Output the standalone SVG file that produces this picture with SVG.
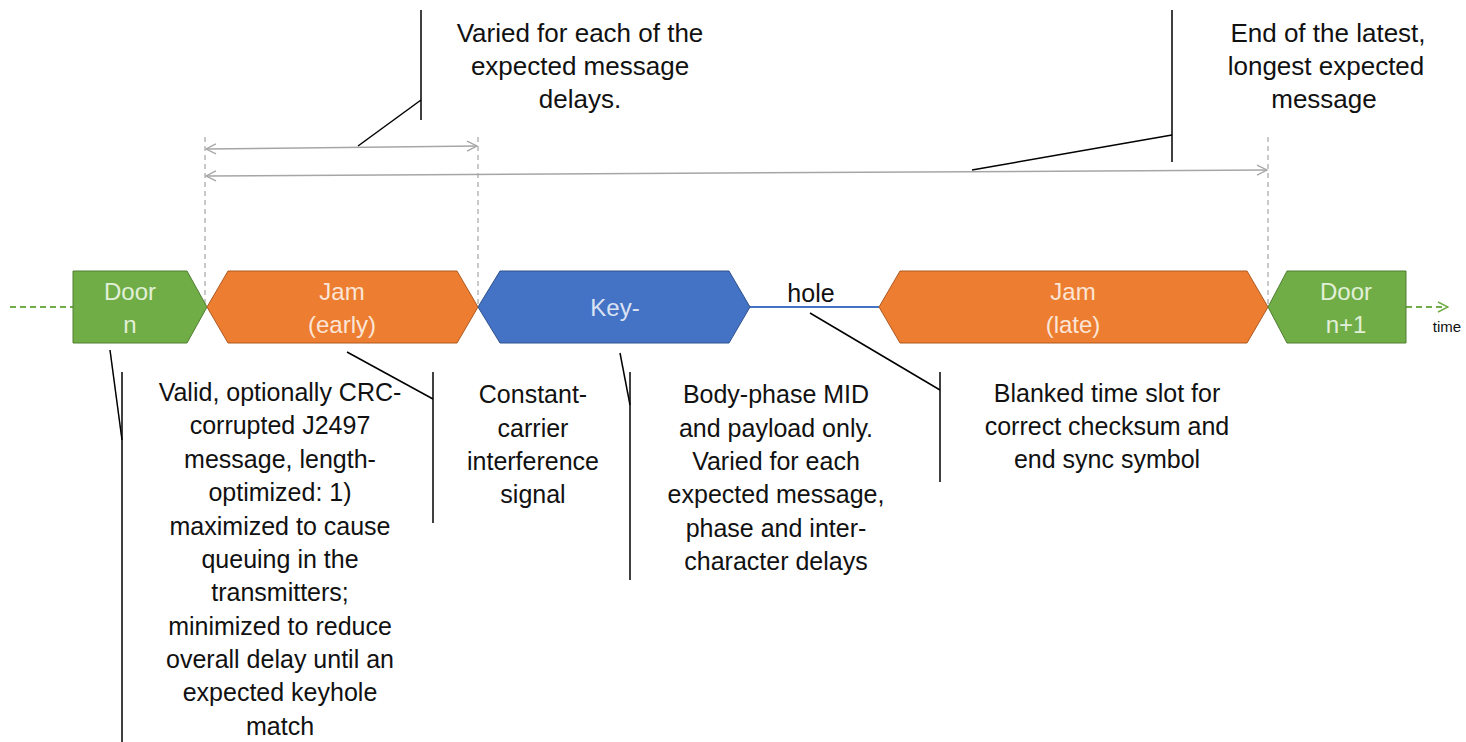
<svg xmlns="http://www.w3.org/2000/svg" width="1466" height="742" viewBox="0 0 1466 742">
<style>
.lbl{font-family:"Liberation Sans",Arial,sans-serif;font-size:25px;fill:#111;text-anchor:middle}
.top{font-size:26px}
.in{font-family:"Liberation Sans",Arial,sans-serif;font-size:24px;text-anchor:middle}
.green{fill:#70ad47;stroke:#507e32;stroke-width:1}
.orange{fill:#ed7d31;stroke:#ae5a21;stroke-width:1}
.blue{fill:#4472c4;stroke:#2f528f;stroke-width:1}
.call{stroke:#000;stroke-width:1.5;fill:none}
.dim{stroke:#a6a6a6;stroke-width:1.5;fill:none}
.guide{stroke:#a6a6a6;stroke-width:1.2;stroke-dasharray:5,4;fill:none}
</style>
<defs>
<marker id="grayArrow" viewBox="0 0 12 12" refX="11" refY="6" markerWidth="12" markerHeight="12" markerUnits="userSpaceOnUse" orient="auto-start-reverse">
<path d="M1,1 L11,6 L1,11" fill="none" stroke="#a6a6a6" stroke-width="1.3"/>
</marker>
<marker id="greenArrow" viewBox="0 0 12 12" refX="11" refY="6" markerWidth="12" markerHeight="12" markerUnits="userSpaceOnUse" orient="auto">
<path d="M1,1 L11,6 L1,11" fill="none" stroke="#70ad47" stroke-width="1.5"/>
</marker>
</defs>
<rect width="1466" height="742" fill="#fff"/>

<g id="connectors">
<line x1="10" y1="307" x2="73" y2="307" stroke="#70ad47" stroke-width="2" stroke-dasharray="6,4"/>
<line x1="1406" y1="307" x2="1448" y2="307" stroke="#70ad47" stroke-width="2" stroke-dasharray="6,4" marker-end="url(#greenArrow)"/>
<line x1="750" y1="307" x2="879" y2="307" stroke="#4472c4" stroke-width="2"/>
<line class="guide" x1="205" y1="137" x2="205" y2="305"/>
<line class="guide" x1="478" y1="137" x2="478" y2="305"/>
<line class="guide" x1="1268" y1="137" x2="1268" y2="305"/>
<line class="dim" x1="206" y1="149" x2="477" y2="146" marker-start="url(#grayArrow)" marker-end="url(#grayArrow)"/>
<line class="dim" x1="206" y1="176" x2="1267" y2="170" marker-start="url(#grayArrow)" marker-end="url(#grayArrow)"/>
<polyline class="call" points="421,10 421,120"/>
<polyline class="call" points="421,100 358,146"/>
<polyline class="call" points="1172,10 1172,162"/>
<polyline class="call" points="1172,135 972,170"/>
<polyline class="call" points="110,350 122,440"/>
<polyline class="call" points="122,372 122,742"/>
<polyline class="call" points="347,352 433,399"/>
<polyline class="call" points="433,372 433,523"/>
<polyline class="call" points="620,353 630,405"/>
<polyline class="call" points="630,372 630,580"/>
<polyline class="call" points="810,313 940,390"/>
<polyline class="call" points="940,372 940,482"/>
</g>

<g id="door-n">
<polygon class="green" points="73,271 187,271 207,307 187,343 73,343"/>
<text class="in" fill="#e2f0d9" x="130" y="300">Door</text>
<text class="in" fill="#e2f0d9" x="130" y="333">n</text>
</g>
<g id="jam-early">
<polygon class="orange" points="207,307 228,271 457,271 478,307 457,343 228,343"/>
<text class="in" fill="#fbe5d6" x="342" y="300">Jam</text>
<text class="in" fill="#fbe5d6" x="342" y="333">(early)</text>
</g>
<g id="key">
<polygon class="blue" points="478,307 500,271 729,271 750,307 729,343 500,343"/>
<text class="in" fill="#dae3f3" x="615" y="316">Key-</text>
</g>
<g id="hole">
<text class="lbl" x="811" y="302">hole</text>
</g>
<g id="jam-late">
<polygon class="orange" points="879,307 900,271 1247,271 1268,307 1247,343 900,343"/>
<text class="in" fill="#fbe5d6" x="1073" y="300">Jam</text>
<text class="in" fill="#fbe5d6" x="1073" y="333">(late)</text>
</g>
<g id="door-n1">
<polygon class="green" points="1287,271 1406,271 1406,343 1287,343 1268,307"/>
<text class="in" fill="#e2f0d9" x="1346" y="300">Door</text>
<text class="in" fill="#e2f0d9" x="1346" y="333">n+1</text>
</g>
<g id="time-label">
<text x="1447" y="332" font-family="Liberation Sans, Arial, sans-serif" font-size="15" fill="#111" text-anchor="middle">time</text>
</g>

<g id="note-delays">
<text class="lbl top" x="580" y="42">Varied for each of the</text>
<text class="lbl top" x="580" y="75">expected message</text>
<text class="lbl top" x="580" y="108">delays.</text>
</g>
<g id="note-end">
<text class="lbl top" x="1328" y="42">End of the latest,</text>
<text class="lbl top" x="1326" y="75">longest expected</text>
<text class="lbl top" x="1324" y="108">message</text>
</g>
<g id="note-jam-early">
<text class="lbl" x="280" y="401">Valid, optionally CRC-</text>
<text class="lbl" x="280" y="434">corrupted J2497</text>
<text class="lbl" x="280" y="468">message, length-</text>
<text class="lbl" x="280" y="501">optimized: 1)</text>
<text class="lbl" x="280" y="535">maximized to cause</text>
<text class="lbl" x="280" y="568">queuing in the</text>
<text class="lbl" x="280" y="601">transmitters;</text>
<text class="lbl" x="280" y="635">minimized to reduce</text>
<text class="lbl" x="280" y="668">overall delay until an</text>
<text class="lbl" x="280" y="701">expected keyhole</text>
<text class="lbl" x="280" y="735">match</text>
</g>
<g id="note-key">
<text class="lbl" x="533" y="403">Constant-</text>
<text class="lbl" x="533" y="437">carrier</text>
<text class="lbl" x="533" y="470">interference</text>
<text class="lbl" x="533" y="503">signal</text>
</g>
<g id="note-body">
<text class="lbl" x="776" y="403">Body-phase MID</text>
<text class="lbl" x="776" y="437">and payload only.</text>
<text class="lbl" x="776" y="470">Varied for each</text>
<text class="lbl" x="776" y="503">expected message,</text>
<text class="lbl" x="776" y="537">phase and inter-</text>
<text class="lbl" x="776" y="570">character delays</text>
</g>
<g id="note-hole">
<text class="lbl" x="1107" y="402">Blanked time slot for</text>
<text class="lbl" x="1107" y="435">correct checksum and</text>
<text class="lbl" x="1107" y="468">end sync symbol</text>
</g>
</svg>
